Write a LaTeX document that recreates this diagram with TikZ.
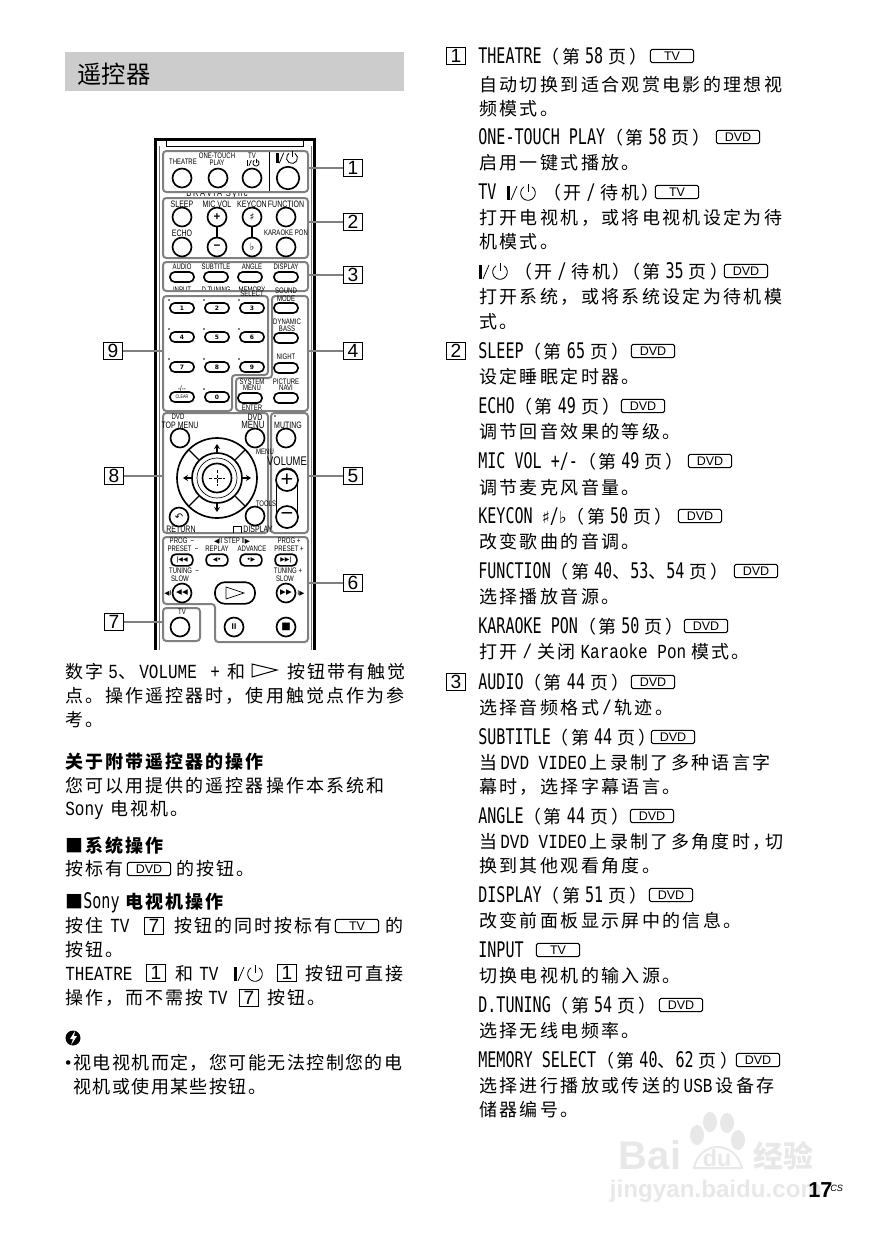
\documentclass[tikz,border=0pt]{standalone}
\usepackage{fontspec}
\usetikzlibrary{arrows.meta}
\setmainfont{Liberation Sans}
\newfontfamily\zhtitre{Noto Sans CJK SC}
\newfontfamily\zhserre[LetterSpace=8]{Noto Sans CJK SC}
\newfontfamily\zhleft[LetterSpace=11.5]{Noto Sans CJK SC}
\newfontfamily\zhright[LetterSpace=13]{Noto Sans CJK SC}
\newfontfamily\latbody[FakeStretch=0.8]{Liberation Mono}
\newfontfamily\lathead[FakeStretch=0.7]{DejaVu Sans Mono}
\newfontfamily\lablfont[FakeStretch=0.75]{Liberation Sans}
\newfontfamily\symfont{DejaVu Sans}
\newcommand{\la}[1]{{\fontsize{12}{12}\latbody #1}}
\newcommand{\zh}[1]{{\fontsize{10.8}{12}\zhright #1}}
\newcommand{\hd}[1]{{\fontsize{12.9}{14}\lathead #1}}
\newcommand{\pg}[1]{\zh{（第}\hspace{3pt}#1\hspace{3pt}\zh{页}\hspace{2pt}\zh{）}}

\begin{document}
\begin{tikzpicture}[x=0.6pt,y=-0.6pt]
\tikzset{
  corps/.style={draw=black, line width=1.8pt},
  groupe/.style={draw=black!50, line width=1.2pt, rounded corners=2pt},
  rappel/.style={draw=black!50, line width=0.9pt},
  rond/.style={draw, circle, line width=1pt, minimum size=11.4pt, inner sep=0, fill=white},
  pilule/.style={draw, rectangle, rounded corners=2.8pt, line width=1pt, minimum width=14.4pt, minimum height=6pt, inner sep=0, fill=white, font=\fontsize{3.6}{4}\symfont\bfseries},
  numero/.style={draw, rectangle, line width=0.6pt, minimum width=11pt, minimum height=10pt, inner sep=0, font=\fontsize{11.5}{12}\selectfont},
  touche/.style={draw, rectangle, rounded corners=1pt, line width=0.6pt, minimum width=26pt, minimum height=8pt, inner sep=0, font=\fontsize{7.5}{8}\selectfont},
  lab/.style={inner sep=0, font=\fontsize{4.8}{5}\lablfont},
  labm/.style={inner sep=0, font=\fontsize{5.6}{6}\lablfont},
  labg/.style={inner sep=0, font=\fontsize{7.5}{8}\lablfont},
  symb/.style={inner sep=0, font=\fontsize{4}{5}\symfont},
  txtl/.style={anchor=base west, inner sep=0, font=\fontsize{10.8}{12}\zhleft},
  txtr/.style={anchor=base west, inner sep=0, font=\fontsize{10.8}{12}\zhright},
  tete/.style={anchor=base west, inner sep=0, font=\fontsize{12.9}{14}\lathead},
  filig/.style={inner sep=0, text=black!9},
  marche/.pic={
    \fill (-21,-7) rectangle (-18,7);
    \draw[line width=0.45pt] (-17,7) -- (-11,-7);
    \draw[line width=0.6pt] (0,-9) -- (0,-1);
    \draw[line width=0.5pt] (0,0) ++(58:4.4pt) arc[start angle=58, end angle=-238, radius=4.4pt];
  }
}
\useasboundingbox (0,0) rectangle (873,1240);

% titre
\fill[black!20] (65,52) rectangle (404,91);
\node[txtl, font=\fontsize{14.6}{16}\zhtitre] (TITRE) at (77,83) {遥控器};

% filigrane
\node[filig, font=\fontsize{24}{25}\selectfont\bfseries] (WM1) at (650,1155) {Bai};
\node[filig, font=\fontsize{14}{15}\selectfont\bfseries] (WM2) at (717,1158) {du};
\node[filig, font=\fontsize{18}{19}\zhtitre\bfseries] (WM3) at (783,1156) {经验};
\node[filig, font=\fontsize{14.5}{16}\selectfont\bfseries] (WM4) at (716,1191) {jingyan.baidu.com};
\draw[black!9, line width=1.2pt] (694,1168) .. controls (700,1140) and (735,1140) .. (742,1168) -- cycle;
\fill[black!9] (697,1135) ellipse (7 and 10);
\fill[black!9] (710,1122) ellipse (7 and 10);
\fill[black!9] (727,1123) ellipse (7 and 10);
\fill[black!9] (738,1140) ellipse (7 and 10);

% boitier
\draw[corps] (155,650) -- (155,139) -- (314,139) -- (314,650);
\draw[black!55, line width=0.4pt] (159,650) -- (159,146);
\draw[black!55, line width=0.4pt] (311,650) -- (311,146);
\draw[line width=0.5pt] (166,140) -- (166,146) -- (303,146) -- (303,140);

% textes coupes
\begin{scope}
\clip (155,192) rectangle (314,198);
\node[lab, font=\fontsize{6}{7}\lablfont] (BRAVIA) at (217,194) {B\,R\,A\,V\,I\,A\ \,S\,y\,n\,c};
\end{scope}
\begin{scope}
\clip (155,280) rectangle (314,291);
\node[lab] (INPUT) at (182,290) {INPUT};
\node[lab] (DTUN) at (216,290) {D.TUNING};
\node[lab] (MEM) at (252,290) {MEMORY};
\end{scope}

% groupes
\draw[groupe] (163,151) rectangle (308,192);
\draw[groupe] (163,198) rectangle (308,258);
\draw[groupe] (163,262) rectangle (308,291);
\draw[groupe] (163,296) -- (268,296) -- (268,375) -- (232,375) -- (232,411) -- (163,411) -- cycle;
\draw[groupe] (272,296) -- (308,296) -- (308,411) -- (236,411) -- (236,378) -- (272,378) -- cycle;
\draw[groupe] (163,413) rectangle (268,533);
\draw[groupe] (271,413) rectangle (308,533);
\draw[groupe] (163,537) -- (308,537) -- (308,642) -- (215,642) -- (215,604) -- (163,604) -- cycle;
\draw[groupe] (163,608) rectangle (200,641);
\draw[line width=0.4pt] (269,152) -- (269,191);

\coordinate (G1) at (308,168);
\coordinate (G2) at (308,222);
\coordinate (G3) at (308,275);
\coordinate (G4) at (308,351);
\coordinate (G5) at (308,476);
\coordinate (G6) at (308,583);
\coordinate (G7) at (163,622);
\coordinate (G8) at (163,476);
\coordinate (G9) at (163,351);

\node[numero] (N1) at (353,168) {1};
\node[numero] (N2) at (353,222) {2};
\node[numero] (N3) at (353,275) {3};
\node[numero] (N4) at (353,351) {4};
\node[numero] (N5) at (353,476) {5};
\node[numero] (N6) at (353,583) {6};
\node[numero] (N7) at (114,622) {7};
\node[numero] (N8) at (114,476) {8};
\node[numero] (N9) at (113,351) {9};
\draw[rappel] (N1) -- (G1);
\draw[rappel] (N2) -- (G2);
\draw[rappel] (N3) -- (G3);
\draw[rappel] (N4) -- (G4);
\draw[rappel] (N5) -- (G5);
\draw[rappel] (N6) -- (G6);
\draw[rappel] (N7) -- (G7);
\draw[rappel] (N8) -- (G8);
\draw[rappel] (N9) -- (G9);

% groupe 1
\node[lab] (L1a) at (183,162) {THEATRE};
\node[lab] (L1b) at (217,156) {ONE-TOUCH};
\node[lab] (L1c) at (217,163) {PLAY};
\node[lab] (L1d) at (252,156) {TV};
\node[rond] (B1a) at (182,178) {};
\node[rond] (B1b) at (218,178) {};
\node[rond] (B1c) at (252,178) {};
\node[rond, minimum size=13.5pt] (B1d) at (288,178) {};
\pic[scale=0.42] at (256,163) {marche};
\pic[scale=0.75] at (292,158) {marche};

% groupe 2
\node[labm] (L2a) at (182,204) {SLEEP};
\node[labm] (L2b) at (217,204) {MIC VOL};
\node[labm] (L2c) at (252,204) {KEYCON};
\node[labm] (L2d) at (286,204) {FUNCTION};
\node[labm] (L2e) at (182,233) {ECHO};
\node[lab] (L2f) at (286,233) {KARAOKE PON};
\node[rond] (B2a) at (182,217) {};
\node[rond] (B2b) at (217,217) {\fontsize{7}{7}\selectfont\bfseries +};
\node[rond] (B2c) at (252,217) {\fontsize{6}{7}\symfont\bfseries ♯};
\node[rond] (B2d) at (286,217) {};
\node[rond] (B2e) at (182,247) {};
\node[rond] (B2f) at (217,247) {\fontsize{7}{7}\selectfont\bfseries −};
\node[rond] (B2g) at (252,247) {\fontsize{6}{7}\symfont\bfseries ♭};
\node[rond] (B2h) at (286,247) {};
\draw[line width=0.9pt] (B2b) -- (B2f);
\draw[line width=0.9pt] (B2c) -- (B2g);

% groupe 3
\node[lab] (L3a) at (182,267) {AUDIO};
\node[lab] (L3b) at (216,267) {SUBTITLE};
\node[lab] (L3c) at (252,267) {ANGLE};
\node[lab] (L3d) at (286,267) {DISPLAY};
\node[lab] (L3e) at (252,294) {SELECT};
\node[pilule] (B3a) at (182,277) {};
\node[pilule] (B3b) at (216,277) {};
\node[pilule] (B3c) at (250,277) {};
\node[pilule] (B3d) at (286,277) {};

% pave numerique
\node[pilule] (K1) at (182,308) {1};
\node[pilule] (K2) at (217,308) {2};
\node[pilule] (K3) at (252,308) {3};
\node[pilule] (K4) at (182,337) {4};
\node[pilule] (K5) at (217,337) {5};
\node[pilule] (K6) at (252,337) {6};
\node[pilule] (K7) at (182,367) {7};
\node[pilule] (K8) at (217,367) {8};
\node[pilule] (K9) at (252,367) {9};
\node[pilule, font=\fontsize{3}{3}\lablfont] (KC) at (182,397) {CLEAR};
\node[pilule] (K0) at (217,397) {0};
\node[lab] (LKa) at (182,389) {-/--};
\fill (169,300) circle (0.8);
\fill (204,300) circle (0.8);
\fill (239,300) circle (0.8);
\fill (169,329) circle (0.8);
\fill (204,329) circle (0.8);
\fill (239,329) circle (0.8);
\fill (169,359) circle (0.8);
\fill (204,359) circle (0.8);
\fill (239,359) circle (0.8);
\fill (204,389) circle (0.8);

% groupe 4
\node[lab] (L4a) at (286,291) {SOUND};
\node[lab] (L4b) at (286,299) {MODE};
\node[lab] (L4c) at (287,322) {DYNAMIC};
\node[lab] (L4d) at (287,329) {BASS};
\node[lab] (L4e) at (286,357) {NIGHT};
\node[lab] (L4f) at (252,382) {SYSTEM};
\node[lab] (L4g) at (252,388) {MENU};
\node[lab] (L4h) at (286,382) {PICTURE};
\node[lab] (L4i) at (286,388) {NAVI};
\node[lab] (L4j) at (252,408) {ENTER};
\node[pilule] (B4a) at (286,308) {};
\node[pilule] (B4b) at (286,338) {};
\node[pilule] (B4c) at (286,368) {};
\node[pilule] (B4d) at (250,398) {};
\node[pilule] (B4e) at (286,398) {};

% groupe 8
\node[lab] (L8a) at (178,417) {DVD};
\node[labm] (L8b) at (180,425) {TOP MENU};
\node[labm] (L8c) at (255,417) {DVD};
\node[labm, font=\fontsize{6.3}{7}\lablfont] (L8d) at (253,425) {MENU};
\node[lab] (L8e) at (265,452) {MENU};
\node[lab] (L8f) at (266,504) {TOOLS};
\node[labm] (L8g) at (181,529) {RETURN};
\node[labm] (L8h) at (258,529) {DISPLAY};
\draw[line width=0.4pt] (233,533) -- (233,526) -- (241,526) -- (241,533);
\node[rond] (B8a) at (180,438) {};
\node[rond] (B8b) at (255,438) {};
\node[rond] (B8c) at (179,517) {\fontsize{6}{7}\symfont ↶};
\node[rond] (B8d) at (255,516) {};
\node[rond, minimum size=48pt] (D1) at (217,478) {};
\node[rond, minimum size=30pt] (D2) at (217,478) {};
\node[rond, minimum size=24pt, line width=0.4pt] (D3) at (217,478) {};
\node[rond, minimum size=17.4pt] (D4) at (217,478) {};
\draw[line width=0.8pt] (D1.45) -- (D2.45);
\draw[line width=0.8pt] (D1.135) -- (D2.135);
\draw[line width=0.8pt] (D1.225) -- (D2.225);
\draw[line width=0.8pt] (D1.315) -- (D2.315);
\draw[line width=0.7pt, -{Stealth[length=3pt,width=3.6pt]}] (217,453) -- (217,444);
\draw[line width=0.7pt, -{Stealth[length=3pt,width=3.6pt]}] (217,503) -- (217,512);
\draw[line width=0.7pt, -{Stealth[length=3pt,width=3.6pt]}] (192,478) -- (183,478);
\draw[line width=0.7pt, -{Stealth[length=3pt,width=3.6pt]}] (242,478) -- (251,478);
\draw[line width=0.4pt, dashed, dash pattern=on 2pt off 0.8pt] (209,478) -- (225,478);
\draw[line width=0.4pt, dashed, dash pattern=on 2pt off 0.8pt] (217,470) -- (217,486);

% groupe 5
\node[labm] (L5a) at (288,425) {MUTING};
\fill (275,416) circle (0.9);
\node[labg] (L5b) at (287,461) {VOLUME};
\node[rond] (B5a) at (286,438) {};
\node[draw, rectangle, rounded corners=6pt, line width=0.4pt, minimum width=12.6pt, minimum height=36pt, inner sep=0] (VC) at (287,498) {};
\node[rond, minimum size=13.2pt, font=\fontsize{13}{13}\selectfont] (VP) at (287,480) {+};
\node[rond, minimum size=13.2pt, font=\fontsize{13}{13}\selectfont] (VM) at (287,517) {−};

% groupe 6
\node[lab] (L6a) at (182,541) {PROG \ −};
\node[lab] (L6b) at (232,541) {\symfont\fontsize{4}{5}\selectfont◀\lablfont\fontsize{4.8}{5}\selectfont II STEP II\symfont\fontsize{4}{5}\selectfont▶};
\node[lab] (L6c) at (289,541) {PROG +};
\node[lab] (L6d) at (183,549) {PRESET \ −};
\node[lab] (L6e) at (217,549) {REPLAY};
\node[lab] (L6f) at (252,549) {ADVANCE};
\node[lab] (L6g) at (289,549) {PRESET +};
\node[lab] (L6h) at (184,571) {TUNING \ −};
\node[lab] (L6i) at (180,579) {SLOW};
\node[lab] (L6j) at (288,571) {TUNING +};
\node[lab] (L6k) at (285,579) {SLOW};
\node[pilule, minimum width=13pt, minimum height=7pt] (B6a) at (182,560) {|◀◀};
\node[pilule, minimum width=13pt, minimum height=7pt] (B6b) at (217,560) {◀•};
\node[pilule, minimum width=13pt, minimum height=7pt] (B6c) at (251,560) {•▶};
\node[pilule, minimum width=13pt, minimum height=7pt] (B6d) at (286,560) {▶▶|};
\node[rond, font=\fontsize{4.5}{5}\symfont] (B6e) at (182,593) {◀◀};
\node[rond, font=\fontsize{4.5}{5}\symfont] (B6f) at (286,593) {▶▶};
\node[pilule, rounded corners=6pt, minimum width=24pt, minimum height=13pt] (PLAY) at (235,593) {};
\draw[line width=0.4pt] (226,587) -- (244,593) -- (226,599) -- cycle;
\node[symb] (L6l) at (168,593) {◀I};
\node[symb] (L6m) at (301,593) {I▶};
\node[rond, font=\fontsize{5}{6}\selectfont\bfseries] (B6g) at (234,627) {II};
\node[rond, font=\fontsize{6}{6}\symfont] (B6h) at (286,627) {■};

% groupe 7
\node[lab] (L7a) at (182,612) {TV};
\node[rond] (B7a) at (180,627) {};

% colonne gauche
\node[txtl] (A1) at (65,678) {数字\hspace{3pt}\la{5}、\hspace{2pt}\la{VOLUME}};
\node[txtl] (A2) at (210,678) {\la{+}};
\node[txtl] (A3) at (227,678) {和};
\draw[line width=0.6pt] (252,664) -- (277,670) -- (252,677) -- cycle;
\node[txtl] (A4) at (287,678) {按钮带有触觉};
\node[txtl] (A5) at (65,702) {点。操作遥控器时，使用触觉点作为参};
\node[txtl] (A6) at (65,726) {考。};
\node[txtl] (A7) at (65,768) {\bfseries 关于附带遥控器的操作};
\node[txtl] (A8) at (65,792) {您可以用提供的遥控器操作本系统和};
\node[txtl] (A9) at (65,815) {\la{Sony}\hspace{4pt}电视机。};
\node[txtl] (A10) at (65,852) {\bfseries ■系统操作};
\node[txtl] (A11) at (65,875) {按标有};
\node[touche] (K11) at (149,869) {DVD};
\node[txtl] (A12) at (176,875) {的按钮。};
\node[txtl] (A13) at (65,908) {\bfseries ■\mdseries\hd{Sony}};
\node[txtl] (A14) at (125,908) {\bfseries 电视机操作};
\node[txtl] (A15) at (65,932) {按住};
\node[txtl] (A16) at (110,932) {\la{TV}};
\node[numero] (N7a) at (154,926) {7};
\node[txtl] (A17) at (174,932) {按钮的同时按标有};
\node[touche] (K17) at (357,926) {TV};
\node[txtl] (A18) at (385,932) {的};
\node[txtl] (A19) at (65,956) {按钮。};
\node[txtl] (A20) at (65,980) {\la{THEATRE}};
\node[numero] (N1a) at (156,973) {1};
\node[txtl] (A21) at (175,980) {和};
\node[txtl] (A22) at (199,980) {\la{TV}};
\pic[scale=1] at (255,974) {marche};
\node[numero] (N1b) at (287,973) {1};
\node[txtl] (A24) at (305,980) {按钮可直接};
\node[txtl] (A25) at (65,1004) {操作，而不需按};
\node[txtl] (A26) at (208,1004) {\la{TV}};
\node[numero] (N7b) at (249,998) {7};
\node[txtl] (A27) at (267,1004) {按钮。};
\node[circle, fill=black, minimum size=9pt, inner sep=0] (NOTE) at (73,1038) {};
\fill[white] (75,1031) -- (70,1039) -- (73,1039) -- (71,1045) -- (77,1036) -- (74,1036) -- cycle;
\node[anchor=base west, inner sep=0, font=\fontsize{10}{12}\selectfont] (A28) at (65,1068) {•};
\node[txtl, font=\fontsize{10.8}{12}\zhserre] (A29) at (73,1069) {视电视机而定，您可能无法控制您的电};
\node[txtl, font=\fontsize{10.8}{12}\zhserre] (A30) at (73,1093) {视机或使用某些按钮。};

% colonne droite
\node[numero] (R1) at (456,56) {1};
\node[tete] (C1) at (478,63) {THEATRE\pg{58}};
\node[touche] (T1) at (672,56) {TV};
\node[txtr] (C2) at (479,91) {自动切换到适合观赏电影的理想视};
\node[txtr] (C3) at (479,115) {频模式。};
\node[tete] (C4) at (478,144) {ONE-TOUCH PLAY\pg{58}};
\node[touche] (T2) at (738,137) {DVD};
\node[txtr] (C5) at (479,169) {启用一键式播放。};
\node[tete] (C6) at (478,199) {TV};
\pic[scale=1] at (528,193) {marche};
\node[tete] (C8) at (543,199) {\zh{（开}\hspace{3pt}/\hspace{3pt}\zh{待机}\zh{）}};
\node[touche] (T3) at (677,192) {TV};
\node[txtr] (C9) at (479,224) {打开电视机，或将电视机设定为待};
\node[txtr] (C10) at (479,248) {机模式。};
\pic[scale=1] at (500,272) {marche};
\node[tete] (C11) at (514,278) {\zh{（开}\hspace{3pt}/\hspace{3pt}\zh{待机}\zh{）}};
\node[tete] (C12) at (622,278) {\pg{35}};
\node[touche] (T4) at (746,271) {DVD};
\node[txtr] (C13) at (479,303) {打开系统，或将系统设定为待机模};
\node[txtr] (C14) at (479,328) {式。};
\node[numero] (R2) at (456,351) {2};
\node[tete] (C15) at (478,358) {SLEEP\pg{65}};
\node[touche] (T5) at (653,351) {DVD};
\node[txtr] (C16) at (479,383) {设定睡眠定时器。};
\node[tete] (C17) at (478,413) {ECHO\pg{49}};
\node[touche] (T6) at (643,406) {DVD};
\node[txtr] (C18) at (479,438) {调节回音效果的等级。};
\node[tete] (C19) at (478,468) {MIC VOL +/-\pg{49}};
\node[touche] (T7) at (710,461) {DVD};
\node[txtr] (C20) at (479,494) {调节麦克风音量。};
\node[tete] (C21) at (478,523) {KEYCON {\symfont\fontsize{10}{12}\selectfont ♯}/{\symfont\fontsize{10}{12}\selectfont ♭}\pg{50}};
\node[touche] (T8) at (700,516) {DVD};
\node[txtr] (C22) at (479,548) {改变歌曲的音调。};
\node[tete] (C23) at (478,578) {FUNCTION\pg{40\zh{、}53\zh{、}54}};
\node[touche] (T9) at (756,571) {DVD};
\node[txtr] (C24) at (479,603) {选择播放音源。};
\node[tete] (C25) at (478,633) {KARAOKE PON\pg{50}};
\node[touche] (T10) at (706,626) {DVD};
\node[txtr] (C26) at (479,658) {打开\hspace{3pt}\la{/}\hspace{3pt}关闭\hspace{3pt}\la{Karaoke Pon}\hspace{3pt}模式。};
\node[numero] (R3) at (456,682) {3};
\node[tete] (C27) at (478,689) {AUDIO\pg{44}};
\node[touche] (T11) at (653,682) {DVD};
\node[txtr] (C28) at (479,714) {选择音频格式\,\la{/}\,轨迹。};
\node[tete] (C29) at (478,744) {SUBTITLE\pg{44}};
\node[touche] (T12) at (673,737) {DVD};
\node[txtr] (C30) at (479,769) {当\,\la{DVD VIDEO}\,上录制了多种语言字};
\node[txtr] (C31) at (479,793) {幕时，选择字幕语言。};
\node[tete] (C32) at (478,823) {ANGLE\pg{44}};
\node[touche] (T13) at (652,816) {DVD};
\node[txtr] (C33) at (479,848) {当\,\la{DVD VIDEO}\,上录制了多角度时，\hspace{-3pt}切};
\node[txtr] (C34) at (479,872) {换到其他观看角度。};
\node[tete] (C35) at (478,902) {DISPLAY\pg{51}};
\node[touche] (T14) at (671,895) {DVD};
\node[txtr] (C36) at (479,927) {改变前面板显示屏中的信息。};
\node[tete] (C37) at (478,957) {INPUT};
\node[touche] (T15) at (558,950) {TV};
\node[txtr] (C38) at (479,982) {切换电视机的输入源。};
\node[tete] (C39) at (478,1012) {D.TUNING\pg{54}};
\node[touche] (T16) at (681,1005) {DVD};
\node[txtr] (C40) at (479,1037) {选择无线电频率。};
\node[tete] (C41) at (478,1067) {MEMORY SELECT\pg{40\zh{、}62}};
\node[touche] (T17) at (758,1060) {DVD};
\node[txtr] (C42) at (479,1092) {选择进行播放或传送的\hspace{2pt}\la{USB}\hspace{2pt}设备存};
\node[txtr] (C43) at (479,1116) {储器编号。};

% folio
\node[anchor=base west, inner sep=0, font=\fontsize{13}{14}\selectfont\bfseries] (FOLIO) at (808,1197) {17};
\node[anchor=base west, inner sep=0, font=\fontsize{5.5}{6}\selectfont\itshape] (FOLIOb) at (830,1191) {CS};
\end{tikzpicture}
\end{document}
